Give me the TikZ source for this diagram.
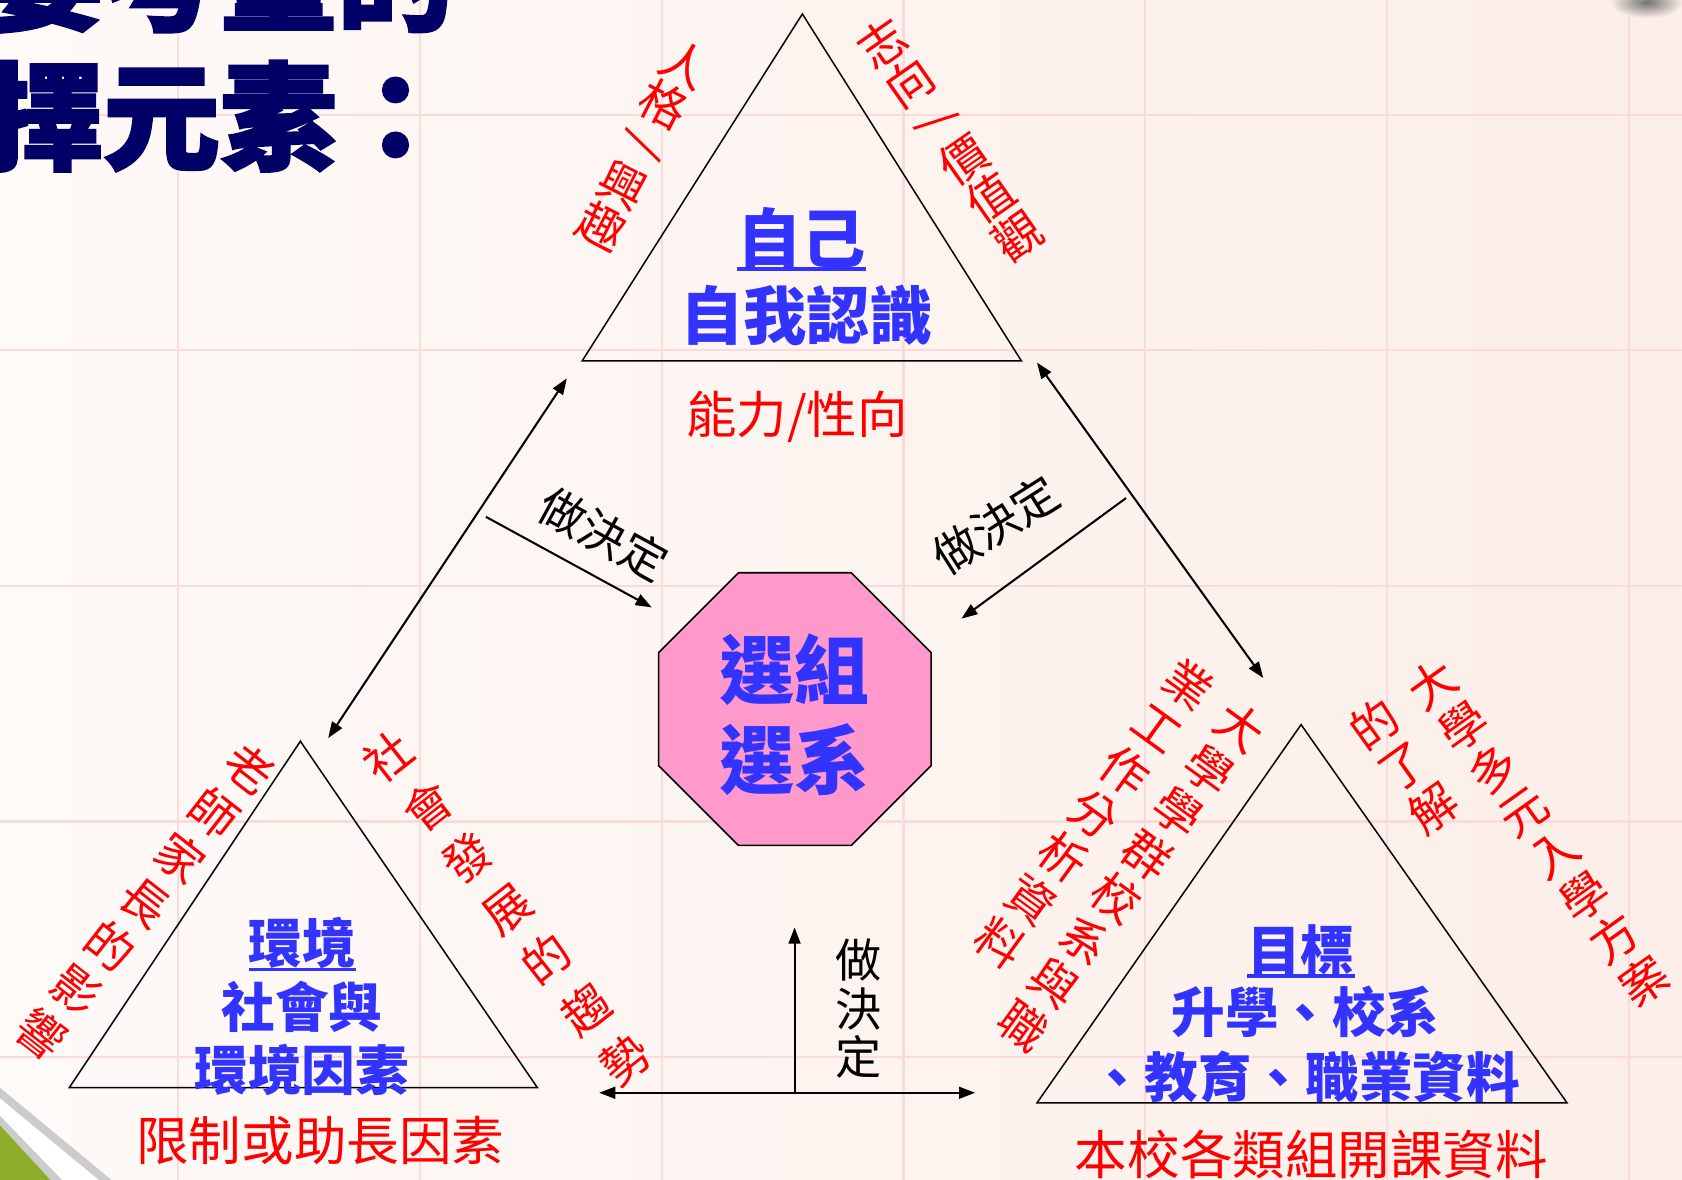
\documentclass[tikz,border=0pt]{standalone}
\usepackage{fontspec}
\usepackage{graphicx}
\setmainfont{Noto Sans CJK TC}
\newfontfamily\titlefont[BoldFeatures={FakeBold=2}]{Noto Sans CJK TC}
\usetikzlibrary{arrows.meta,shapes.geometric}
\definecolor{bgleft}{HTML}{FEFAF8}
\definecolor{bgright}{HTML}{FCEEE8}
\definecolor{gridpink}{HTML}{FADADA}
\definecolor{navy}{HTML}{000066}
\definecolor{wordblue}{HTML}{3333FF}
\definecolor{octpink}{HTML}{FF99CC}
\definecolor{leafgreen}{HTML}{8DAE2C}

\begin{document}
\begin{tikzpicture}[x=1pt, y=1pt,
  every node/.style={inner sep=0pt},
  tri/.style={draw, line width=1.4pt},
  arr/.style={line width=1.9pt, -{Triangle[length=15pt, width=11pt]}},
  dblarr/.style={line width=1.9pt, {Triangle[length=15pt, width=11pt]}-{Triangle[length=15pt, width=11pt]}},
  uline/.style={draw=wordblue, line width=3.3pt},
  bluetext/.style={text=wordblue, align=center, font=\fontsize{50}{59}\selectfont\bfseries},
  redtext/.style={text=red, font=\fontsize{#1}{#1}\selectfont},
  redcol/.style={text=red, align=center, font={\fontsize{44}{#1}\selectfont\lineskiplimit=-100pt}},
  blackcol/.style={align=center, font={\fontsize{43}{#1}\selectfont\lineskiplimit=-100pt}},
  decide/.style={font=\fontsize{43}{43}\selectfont}]

\useasboundingbox (0,0) rectangle (1568,-1100);
\clip (0,0) rectangle (1568,-1100);
\shade[left color=bgleft, right color=bgright] (0,0) rectangle (1568,-1100);
\foreach \x in {166,391.4,616.8,842.2,1067.6,1293,1518.4}
  \draw[gridpink, line width=2pt] (\x,0) -- (\x,-1100);
\foreach \y in {107,326.6,546.2,765.8,985.4}
  \draw[gridpink, line width=2pt] (0,-\y) -- (1568,-\y);
\shade[inner color=black!55, outer color=bgright] (1535,-2) ellipse (34 and 15);
\fill[black!20] (0,-1014) -- (104,-1100) -- (47,-1100) -- (0,-1049) -- cycle;
\fill[white] (0,-1024) -- (92,-1100) -- (58,-1100) -- (0,-1040) -- cycle;
\fill[leafgreen] (0,-1049) -- (47,-1100) -- (0,-1100) -- cycle;

\node[anchor=west, text=navy, font=\titlefont\bfseries\fontsize{109}{109}\selectfont] (title1) at (-122,21.6) {主要考量的};
\node[anchor=west, text=navy, font=\titlefont\bfseries\fontsize{109}{109}\selectfont] (title2) at (-122,-108.4) {選擇元素：};

\draw[tri] (748,-13) -- (542.7,-336.5) -- (952.2,-336.5) -- cycle;
\draw[tri] (280,-691) -- (64.5,-1014) -- (501,-1014) -- cycle;
\draw[tri] (1212.9,-675.5) -- (966.7,-1028.1) -- (1460.8,-1028.1) -- cycle;

\node[regular polygon, regular polygon sides=8, minimum size=275pt, draw, line width=1.5pt, fill=octpink] (choice) at (741,-661) {};
\node[text=wordblue, align=center, font=\fontsize{70}{84}\selectfont\bfseries] (choicetext) at (741,-666) {選組\\選系};

\coordinate (selfL) at (528.4,-352.7);
\coordinate (envT) at (306,-688);
\coordinate (selfR) at (966.7,-338);
\coordinate (goalT) at (1177.6,-632);
\coordinate (leftA) at (453,-481.8);
\coordinate (leftB) at (607.5,-566.2);
\coordinate (rightA) at (1049.7,-464.3);
\coordinate (rightB) at (896.3,-576.7);
\coordinate (baseL) at (558.6,-1018.7);
\coordinate (baseR) at (909,-1018.7);
\coordinate (baseM) at (740.7,-1018.7);
\coordinate (upTip) at (740.7,-864.6);

\draw[dblarr] (selfL) -- (envT);
\draw[dblarr] (selfR) -- (goalT);
\draw[arr] (leftA) -- (leftB);
\draw[arr] (rightA) -- (rightB);
\draw[dblarr] (baseL) -- (baseR);
\draw[arr] (baseM) -- (upTip);

\node[decide, rotate=-28.7] (decideA) at (562.4,-497.6) {做決定};
\node[decide, rotate=32.3] (decideB) at (928.5,-489.2) {做決定};
\node[blackcol=45.2] (decideC) at (800.3,-940.2) {做\\決\\定};

\node[bluetext, font=\fontsize{60}{60}\selectfont\bfseries] (self) at (747.5,-222.2) {自己};
\draw[uline] (self.south west) -- (self.south east);
\node[bluetext, font=\fontsize{59}{59}\selectfont\bfseries] (selfknow) at (752,-293.7) {自我認識};
\node[redtext=47] (ability) at (743,-388.5) {能力/性向};
\node[redcol=42.4, rotate=-27] (persona) at (599.5,-135.2) {人\\格\\\raisebox{.56em}{\rotatebox{-90}{/}}\\興\\趣};
\node[redcol=43.8, rotate=35] (values) at (885.4,-130.5) {志\\向\\\raisebox{.56em}{\rotatebox{-90}{/}}\\價\\值\\觀};

\node[bluetext] (env) at (282,-879.4) {環境};
\draw[uline] (env.south west) -- (env.south east);
\node[bluetext] (envtext) at (281.5,-968) {社會與\\環境因素};
\node[redtext=49] (limits) at (298.6,-1062.8) {限制或助長因素};
\node[redcol=52.3, rotate=-38] (elders) at (135.3,-840.6) {老\\師\\家\\長\\的\\影\\響};
\node[redcol=59.8, rotate=38] (trend) at (472.3,-846.8) {社\\會\\發\\展\\的\\趨\\勢};

\node[bluetext] (goal) at (1212.7,-886) {目標};
\draw[uline] (goal.south west) -- (goal.south east);
\node[bluetext, font=\fontsize{50}{60.6}\selectfont\bfseries] (goaltext) at (1217,-973.7) {升學、校系\\、教育、職業資料};
\node[redtext=49] (courses) at (1222.6,-1075.7) {本校各類組開課資料};
\node[redcol=49.2, rotate=-36] (groupsA) at (1055.3,-816.8) {大\\學\\學\\群\\校\\系\\與\\職};
\node[redcol=49.6, rotate=-36] (groupsB) at (1020,-759) {業\\工\\作\\分\\析\\資\\料};
\node[redcol=48.6, rotate=35.5] (planA) at (1434.4,-776) {大\\學\\多\\元\\入\\學\\方\\案};
\node[redcol=47.9, rotate=35.5] (planB) at (1308.6,-714.5) {的\\了\\解};
\end{tikzpicture}
\end{document}
